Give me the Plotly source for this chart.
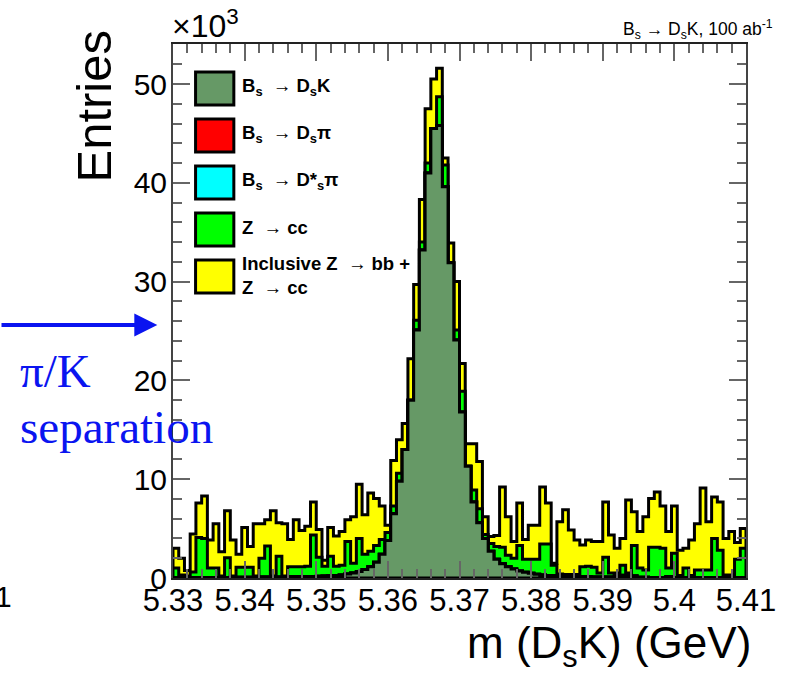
import numpy as np
import plotly.graph_objects as go

# ---- histogram binning: 100 bins over 5.33-5.41 GeV ----
X_MIN, X_MAX, N_BINS = 5.33, 5.41, 100

# entries per bin, in units of 10^3
bs_dsk = [0.04, 0.04, 0.04, 0.05, 0.05, 0.05, 0.05, 0.06, 0.06, 0.06,
          0.07, 0.07, 0.07, 0.08, 0.08, 0.09, 0.09, 0.10, 0.10, 0.11,
          0.12, 0.13, 0.14, 0.15, 0.16, 0.18, 0.20, 0.22, 0.26, 0.30,
          0.40, 0.50, 0.65, 0.85, 1.15, 1.60, 2.40, 3.80, 6.50, 9.80,
          13.0, 18.0, 25.1, 33.2, 41.0, 45.5, 45.8, 39.6, 31.9, 24.1,
          16.8, 11.3, 7.70, 5.60, 4.00, 2.70, 1.90, 1.45, 1.15, 0.90,
          0.72, 0.58, 0.47, 0.38, 0.31, 0.26, 0.22, 0.19, 0.17, 0.15,
          0.14, 0.13, 0.12, 0.11, 0.10, 0.10, 0.09, 0.09, 0.08, 0.08,
          0.07, 0.07, 0.07, 0.06, 0.06, 0.06, 0.06, 0.05, 0.05, 0.05,
          0.05, 0.05, 0.05, 0.04, 0.04, 0.04, 0.04, 0.04, 0.04, 0.04]

bs_dspi = [0.0] * 77 + [0.15, 0.20, 0.20, 0.15] + [0.0] * 5 + [0.08] + [0.0] * 13

bs_dsstarpi = [0.0] * 100

z_cc = [0.96, 0.26, 0.16, 0.55, 4.05, 3.95, 0.95, 0.94, 0.14, 1.99,
        0.13, 1.03, 1.03, 1.02, 0.12, 1.91, 3.16, 0.10, 2.10, 0.09,
        1.03, 1.02, 1.01, 1.05, 4.19, 1.92, 1.00, 1.98, 0.94, 1.00,
        3.30, 1.00, 3.35, 1.55, 1.55, 1.70, 1.50, 0.80, 0.80, 0.80,
        0.00, 0.00, 1.00, 0.80, 1.00, 0.00, 2.90, 2.20, 0.00, 1.00,
        2.10, 0.00, 1.20, 1.40, 0.40, 0.80, 1.30, 1.65, 1.15, 1.10,
        2.58, 1.32, 1.43, 1.52, 3.14, 3.19, 1.08, 0.21, 0.18, 0.20,
        0.21, 1.02, 1.08, 0.99, 0.40, 2.00, 0.41, 0.26, 1.02, 0.22,
        3.08, 0.93, 0.73, 3.04, 3.04, 2.94, 0.86, 2.45, 0.20, 0.95,
        0.20, 0.75, 0.75, 0.76, 3.96, 2.76, 0.26, 0.26, 1.86, 2.96]

inclusive = [2.00, 1.70, 0.55, 3.85, 3.50, 4.30, 2.85, 4.50, 2.45, 4.75,
             3.65, 1.30, 4.00, 2.10, 5.30, 3.50, 2.65, 6.60, 3.40, 5.30,
             2.75, 4.75, 3.65, 4.05, 3.35, 2.80, 0.60, 2.90, 3.05, 3.40,
             2.20, 4.70, 5.50, 4.00, 5.90, 4.75, 3.40, 0.75, 4.60, 3.40,
             2.65, 4.20, 3.60, 4.30, 5.50, 5.00, 2.90, 0.70, 2.00, 4.90,
             2.80, 2.30, 4.70, 4.80, 1.80, 0.70, 1.10, 6.10, 3.90, 1.70,
             4.30, 2.00, 3.45, 3.45, 5.75, 4.15, 0.20, 5.30, 6.55, 4.50,
             3.50, 2.20, 2.65, 2.60, 3.20, 5.60, 3.85, 2.50, 2.70, 7.40,
             3.40, 3.70, 5.40, 4.95, 5.60, 4.30, 3.70, 4.80, 2.55, 2.00,
             3.60, 4.70, 8.30, 4.90, 4.20, 4.90, 3.70, 4.40, 1.70, 2.00]

x_tick_vals = [5.33, 5.34, 5.35, 5.36, 5.37, 5.38, 5.39, 5.40, 5.41]
x_tick_text = ["5.33", "5.34", "5.35", "5.36", "5.37", "5.38", "5.39", "5.4", "5.41"]
y_tick_vals = [0, 10, 20, 30, 40, 50]
y_tick_text = ["0", "10", "20", "30", "40", "50"]

legend_labels = [
    "<b>B<sub>s</sub>  \u2192 D<sub>s</sub>K</b>",
    "<b>B<sub>s</sub>  \u2192 D<sub>s</sub>\u03c0</b>",
    "<b>B<sub>s</sub>  \u2192 D*<sub>s</sub>\u03c0</b>",
    "<b>Z  \u2192 cc</b>",
    "<b>Inclusive Z  \u2192 bb +<br>Z  \u2192 cc</b>",
]
colors = ["#669966", "#ff0000", "#00ffff", "#00ff00", "#ffff00"]

# ---- stack: cumulative sums, drawn from the top layer down ----
components = [bs_dsk, bs_dspi, bs_dsstarpi, z_cc, inclusive]
cumulative = np.cumsum(np.array(components, dtype=float), axis=0)
edges = X_MIN + (X_MAX - X_MIN) / N_BINS * np.arange(N_BINS + 1)


def step_outline(h):
    xs = np.concatenate([[edges[0]], edges, [edges[-1], edges[0]]])
    ys = np.concatenate([[0.0], h, [h[-1], 0.0, 0.0]])
    return xs, ys


fig = go.Figure()
for level in range(len(components) - 1, -1, -1):
    xs, ys = step_outline(cumulative[level])
    fig.add_trace(go.Scatter(
        x=xs, y=ys, mode="lines", line=dict(shape="hv", color="black", width=3),
        fill="toself", fillcolor=colors[level], showlegend=False, hoverinfo="skip"))

# ---- plot area geometry (pixels) ----
W, H = 788, 678
L, R, T, B = 173, 31, 44, 100
PW, PH = W - L - R, H - T - B


def px(x):
    return (x - L) / PW


def py(y):
    return (H - B - y) / PH


Y_TOP = 54.05

SANS = "Liberation Sans, Arial, sans-serif"
SERIF = "Liberation Serif, Times New Roman, serif"

fig.update_layout(
    width=W, height=H,
    margin=dict(l=L, r=R, t=T, b=B),
    paper_bgcolor="white", plot_bgcolor="white",
    xaxis=dict(range=[X_MIN, X_MAX], tickvals=x_tick_vals, ticktext=x_tick_text,
               ticks="inside", ticklen=17, tickwidth=1.5, tickcolor="#666",
               minor=dict(ticks="inside", ticklen=9, dtick=0.002, tick0=X_MIN,
                          tickwidth=1.5, tickcolor="#666"),
               showline=True, linecolor="#222", linewidth=1.5, mirror="allticks",
               showgrid=False, zeroline=False, ticklabeloverflow="allow",
               tickfont=dict(family=SANS, size=31, color="black"), ticklabelstandoff=-6),
    yaxis=dict(range=[0, Y_TOP], tickvals=y_tick_vals, ticktext=y_tick_text,
               ticks="inside", ticklen=17, tickwidth=1.5, tickcolor="#666",
               minor=dict(ticks="inside", ticklen=9, dtick=2, tick0=0,
                          tickwidth=1.5, tickcolor="#666"),
               showline=True, linecolor="#444", linewidth=2, mirror="allticks",
               showgrid=False, zeroline=False,
               tickfont=dict(family=SANS, size=30, color="black"), ticklabelstandoff=-2),
)

annotations = []
shapes = []

# legend boxes and labels
for k, (lab, col) in enumerate(zip(legend_labels, colors)):
    top = 72 + 47 * k
    shapes.append(dict(type="rect", xref="paper", yref="paper",
                       x0=px(196), x1=px(235), y0=py(top + 33), y1=py(top),
                       fillcolor=col, line=dict(color="black", width=3)))
    annotations.append(dict(xref="paper", yref="paper", x=px(241), y=py(top + 15),
                            xanchor="left", yanchor="middle", align="left",
                            text=lab, showarrow=False,
                            font=dict(family=SANS, size=18.5, color="black")))

# axis titles and decorations
annotations += [
    dict(xref="paper", yref="paper", x=px(92), y=py(106), text="Entries", textangle=-90,
         showarrow=False, xanchor="center", yanchor="middle",
         font=dict(family=SANS, size=49, color="black")),
    dict(xref="paper", yref="paper", x=px(764), y=py(646),
         text="m (D<sub>s</sub>K) (GeV)", showarrow=False, xanchor="right", yanchor="middle",
         font=dict(family=SANS, size=44, color="black")),
    dict(xref="paper", yref="paper", x=px(170), y=py(24),
         text="\u00d710<sup>3</sup>", showarrow=False, xanchor="left", yanchor="middle",
         font=dict(family=SANS, size=32, color="black")),
    dict(xref="paper", yref="paper", x=px(787), y=py(29),
         text="B<sub>s</sub> \u2192 D<sub>s</sub>K, 100 ab<sup>-1</sup>", showarrow=False,
         xanchor="right", yanchor="middle",
         font=dict(family=SANS, size=17.5, color="black")),
    dict(xref="paper", yref="paper", x=px(11), y=py(596), text="1", showarrow=False,
         xanchor="right", yanchor="middle",
         font=dict(family=SANS, size=30, color="black")),
    # blue arrow and label
    dict(xref="paper", yref="paper", x=px(157), y=py(325), ax=-160, ay=0,
         axref="pixel", ayref="pixel", text="", showarrow=True,
         arrowhead=2, arrowsize=1.15, arrowwidth=4, arrowcolor="#0a14f0"),
    dict(xref="paper", yref="paper", x=px(15), y=py(371), text="\u03c0/K", showarrow=False,
         xanchor="left", yanchor="middle",
         font=dict(family=SERIF, size=47, color="#0a14f0")),
    dict(xref="paper", yref="paper", x=px(15), y=py(427), text="separation", showarrow=False,
         xanchor="left", yanchor="middle",
         font=dict(family=SERIF, size=47, color="#0a14f0")),
]

fig.update_layout(annotations=annotations, shapes=shapes)
fig.write_html("out.html")
